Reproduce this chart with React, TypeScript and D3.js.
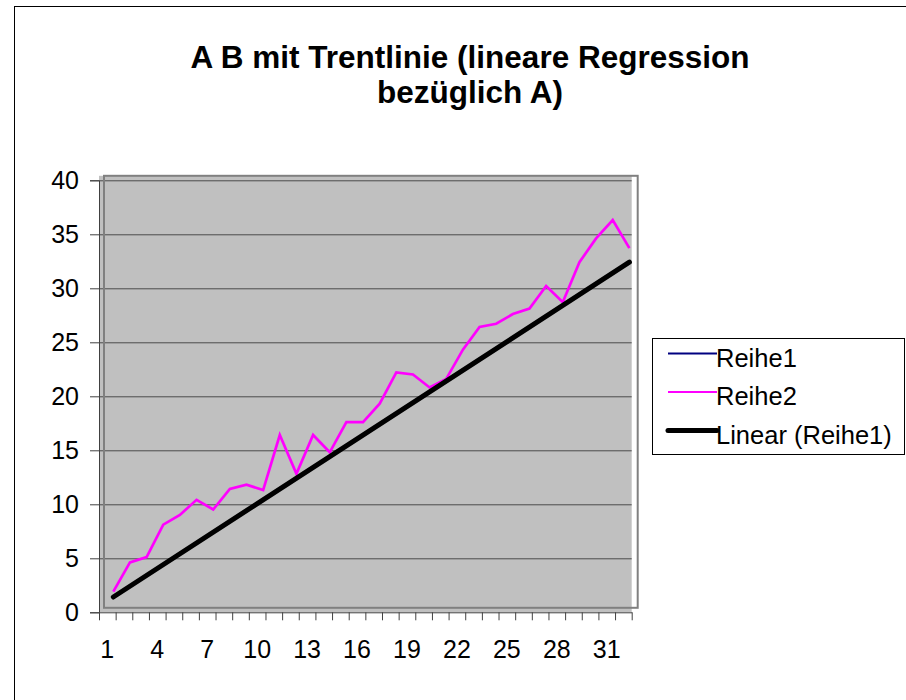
import { useRef, useEffect } from "react";
import * as d3 from "d3";

const W = 906;
const H = 700;

// plot frame (axis coordinates)
const PLOT = { left: 99, right: 631.7, top: 180.3, bottom: 612.3 };
// the series and plot fill are drawn slightly offset from the axes
const DATA_DX = 6;
const DATA_DY = -4.5;

const FONT = "'Liberation Sans', Arial, sans-serif";

const TITLE_LINES = ["A B mit Trentlinie (lineare Regression", "bezüglich A)"];

const categories = [
  "1", "2", "3", "4", "5", "6", "7", "8", "9", "10", "11", "12", "13", "14", "15", "16",
  "17", "18", "19", "20", "21", "22", "23", "24", "25", "26", "27", "28", "29", "30", "31", "32",
];

const reihe1 = [
  1, 2, 3, 4, 5, 6, 7, 8, 9, 10, 11, 12, 13, 14, 15, 16,
  17, 18, 19, 20, 21, 22, 23, 24, 25, 26, 27, 28, 29, 30, 31, 32,
];

const reihe2 = [
  1.5, 4.2, 4.7, 7.7, 8.6, 10.0, 9.1, 11.0, 11.4, 10.9, 16.0, 12.4, 16.0, 14.4, 17.2, 17.2,
  18.9, 21.8, 21.6, 20.4, 21.2, 23.9, 26.0, 26.3, 27.2, 27.7, 29.8, 28.3, 32.0, 34.2, 35.9, 33.3,
];

const yTicks = [0, 5, 10, 15, 20, 25, 30, 35, 40];
const xTickLabels = ["1", "4", "7", "10", "13", "16", "19", "22", "25", "28", "31"];

const legendItems = [
  { label: "Reihe1", color: "#000080", width: 2 },
  { label: "Reihe2", color: "#FF00FF", width: 2 },
  { label: "Linear (Reihe1)", color: "#000000", width: 5 },
];

// least squares fit of values against their position (1..n)
function linearFit(values: number[]) {
  const xs = values.map((_v, i) => i + 1);
  const mx = d3.mean(xs)!;
  const my = d3.mean(values)!;
  const sxy = d3.sum(xs, (x, i) => (x - mx) * (values[i] - my));
  const sxx = d3.sum(xs, (x) => (x - mx) ** 2);
  const slope = sxy / sxx;
  return { slope, intercept: my - slope * mx };
}

export default function App() {
  const svgRef = useRef<SVGSVGElement>(null);

  useEffect(() => {
    const svg = d3.select(svgRef.current);
    if (!svg.node()) return;
    svg.selectAll("*").remove();

    const x = d3
      .scaleBand()
      .domain(categories)
      .range([PLOT.left, PLOT.right]);
    const y = d3.scaleLinear().domain([0, 40]).range([PLOT.bottom, PLOT.top]);
    const cx = (i: number) => x(categories[i])! + x.bandwidth() / 2;

    // chart area border
    svg
      .append("rect")
      .attr("x", 14.5)
      .attr("y", 6.5)
      .attr("width", 1000)
      .attr("height", 1000)
      .attr("fill", "#fff")
      .attr("stroke", "#000")
      .attr("stroke-width", 1);

    // title
    svg
      .append("text")
      .attr("text-anchor", "middle")
      .style("font-family", FONT)
      .style("font-weight", "bold")
      .style("font-size", "31.5px")
      .selectAll("tspan")
      .data(TITLE_LINES)
      .enter()
      .append("tspan")
      .attr("x", 470)
      .attr("y", (_d, i) => 68 + i * 35)
      .text((d) => d);

    // plot fill
    svg
      .append("rect")
      .attr("x", PLOT.left)
      .attr("y", PLOT.top + DATA_DY)
      .attr("width", PLOT.right - PLOT.left)
      .attr("height", PLOT.bottom - PLOT.top - DATA_DY)
      .attr("fill", "#C0C0C0");

    // gridlines
    svg
      .append("g")
      .selectAll("line")
      .data(yTicks.filter((t) => t > 0))
      .enter()
      .append("line")
      .attr("x1", PLOT.left)
      .attr("x2", PLOT.right)
      .attr("y1", (d) => y(d) + 0.5)
      .attr("y2", (d) => y(d) + 0.5)
      .attr("stroke", "#4a4a4a")
      .attr("stroke-width", 1);

    // plot frame
    svg
      .append("rect")
      .attr("x", PLOT.left + DATA_DX - 1)
      .attr("y", PLOT.top + DATA_DY)
      .attr("width", PLOT.right - PLOT.left + 1)
      .attr("height", PLOT.bottom - PLOT.top)
      .attr("fill", "none")
      .attr("stroke", "#808080")
      .attr("stroke-width", 2);

    // y axis
    const yAxis = svg
      .append("g")
      .attr("transform", `translate(${PLOT.left},0)`)
      .call(d3.axisLeft(y).tickValues(yTicks).tickSize(9).tickPadding(11));
    yAxis.select(".domain").attr("stroke", "#404040");
    yAxis.selectAll(".tick line").attr("stroke", "#404040");
    yAxis
      .selectAll("text")
      .style("font-family", FONT)
      .style("font-size", "25px")
      .attr("fill", "#000");

    // x axis: ticks on category boundaries, labels every third category
    const xAxis = svg
      .append("g")
      .attr("transform", `translate(0,${PLOT.bottom})`)
      .call(
        d3
          .axisBottom(x)
          .tickValues(xTickLabels)
          .tickSize(0)
          .tickPadding(28),
      );
    xAxis.select(".domain").attr("stroke", "#404040");
    xAxis
      .selectAll("text")
      .style("font-family", FONT)
      .style("font-size", "25px")
      .attr("fill", "#000");
    xAxis
      .selectAll(".bound")
      .data(d3.range(categories.length + 1))
      .enter()
      .append("line")
      .attr("class", "bound")
      .attr("x1", (i) => PLOT.left + i * x.bandwidth() + 0.5)
      .attr("x2", (i) => PLOT.left + i * x.bandwidth() + 0.5)
      .attr("y1", 0)
      .attr("y2", 8)
      .attr("stroke", "#404040");

    // series
    const g = svg
      .append("g")
      .attr("transform", `translate(${DATA_DX},${DATA_DY})`);
    const line = d3
      .line<number>()
      .x((_d, i) => cx(i))
      .y((d) => y(d));

    g.append("path")
      .datum(reihe1)
      .attr("d", line)
      .attr("fill", "none")
      .attr("stroke", "#000080")
      .attr("stroke-width", 2.5);

    g.append("path")
      .datum(reihe2)
      .attr("d", line)
      .attr("fill", "none")
      .attr("stroke", "#FF00FF")
      .attr("stroke-width", 2.7);

    const fit = linearFit(reihe1);
    const n = reihe1.length;
    g.append("line")
      .attr("x1", cx(0))
      .attr("y1", y(fit.intercept + fit.slope * 1))
      .attr("x2", cx(n - 1))
      .attr("y2", y(fit.intercept + fit.slope * n))
      .attr("stroke", "#000")
      .attr("stroke-width", 5)
      .attr("stroke-linecap", "round");

    // legend
    const lg = svg.append("g");
    lg.append("rect")
      .attr("x", 652.5)
      .attr("y", 338.5)
      .attr("width", 252)
      .attr("height", 116)
      .attr("fill", "#fff")
      .attr("stroke", "#000");
    const rows = lg
      .selectAll(".row")
      .data(legendItems)
      .enter()
      .append("g")
      .attr("transform", (_d, i) => `translate(0,${353.5 + i * 38.5})`);
    rows
      .append("line")
      .attr("x1", 668)
      .attr("x2", 717)
      .attr("y1", 0)
      .attr("y2", 0)
      .attr("stroke", (d) => d.color)
      .attr("stroke-width", (d) => d.width)
      .attr("stroke-linecap", (d) => (d.width > 3 ? "round" : "butt"));
    rows
      .append("text")
      .attr("x", 716)
      .attr("y", 13)
      .style("font-family", FONT)
      .style("font-size", "25.5px")
      .attr("fill", "#000")
      .text((d) => d.label);
  }, []);

  return (
    <svg
      ref={svgRef}
      width={W}
      height={H}
      style={{ position: "absolute", left: 0, top: 0, display: "block" }}
    />
  );
}
